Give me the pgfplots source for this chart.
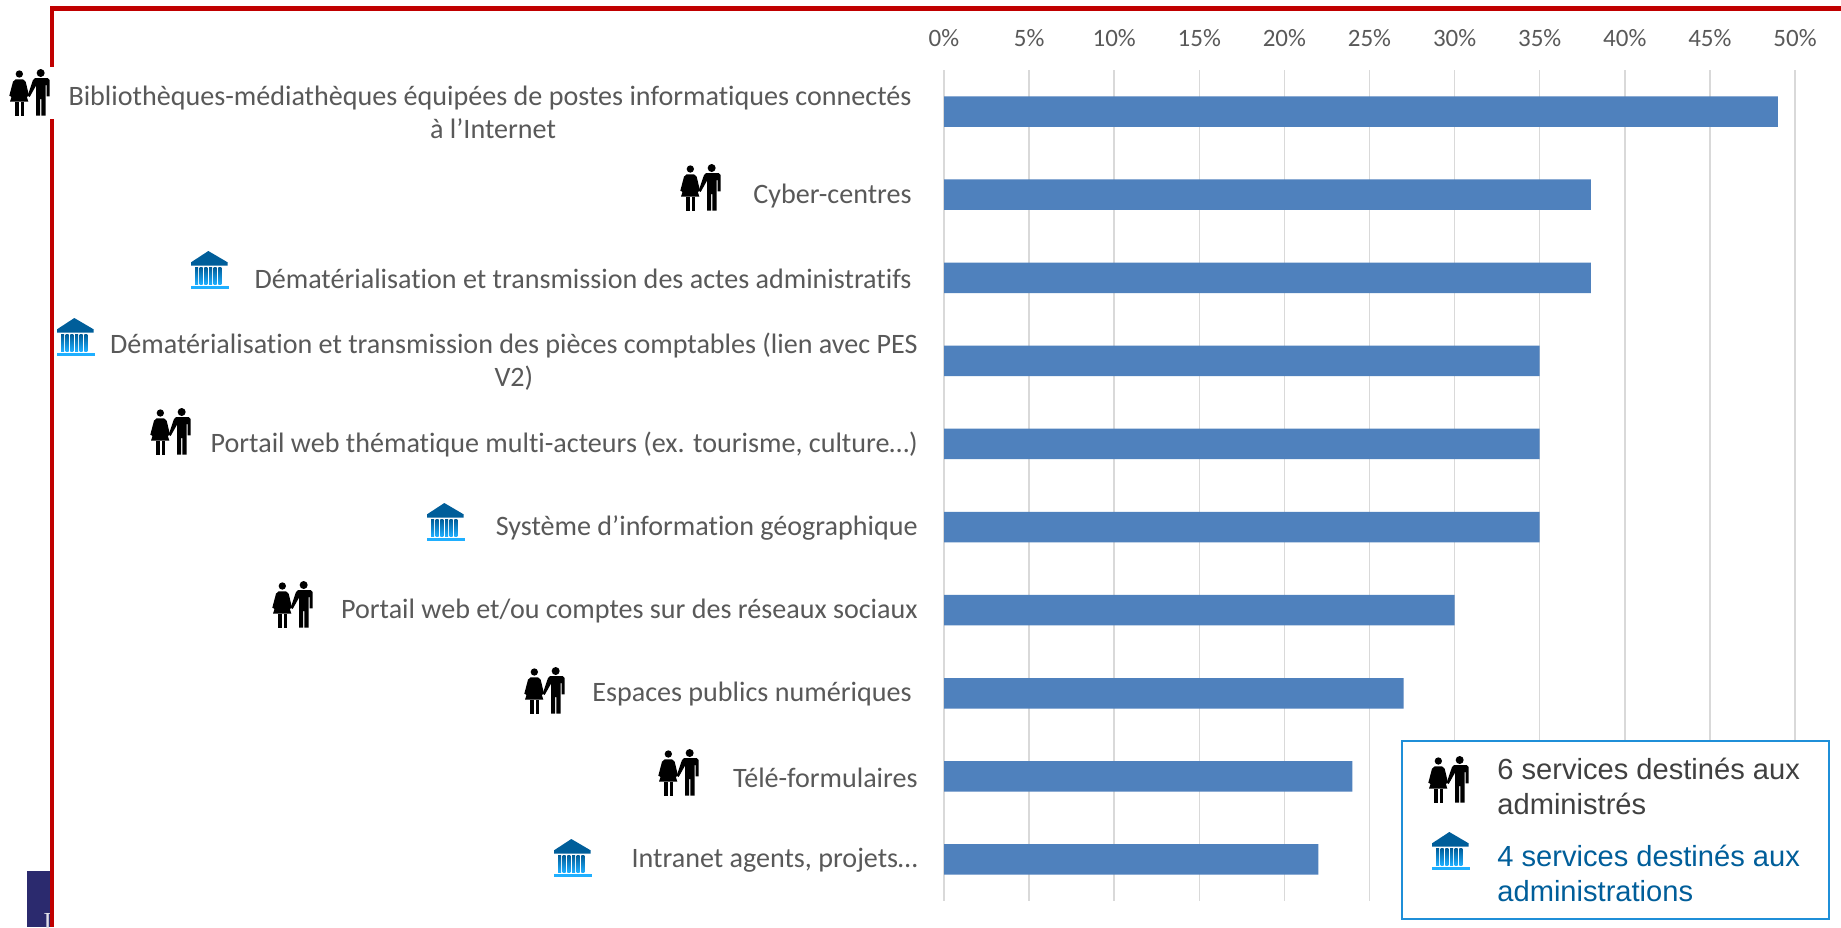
\documentclass[border=0pt]{standalone}
\usepackage{fontspec}
\setmainfont[Ligatures=NoCommon]{Carlito}
\newfontfamily\legfont{Liberation Sans}
\newfontfamily\seriffont{Liberation Serif}
\usepackage{pgfplots}
\pgfplotsset{compat=1.18}
\definecolor{barcol}{HTML}{4F81BD}
\definecolor{gridcol}{HTML}{D9D9D9}
\definecolor{labcol}{HTML}{595959}
\definecolor{framecol}{HTML}{C00000}
\definecolor{navy}{HTML}{2B2A6E}
\definecolor{bankcol}{HTML}{005E9A}
\definecolor{bankbright}{HTML}{1FAFFF}
\definecolor{legline}{HTML}{1F8FD8}
\definecolor{legtext}{HTML}{404040}

% icons, origin = top left corner of the icon, sizes in zoomed pixels (1/3 px)
\newcommand{\peopleicon}[2]{%
  \begin{scope}[shift={(#1,#2)},x=0.16667pt,y=-0.16667pt]
    \fill[black] (31,15) circle[radius=11];
    \fill[black] (20,31) -- (42,31) -- (50,38) -- (60,80) -- (53,84) -- (46,60) -- (58,98)
      -- (3,98) -- (15,60) -- (8,84) -- (1,80) -- (12,38) -- cycle;
    \fill[black] (19,98) rectangle (29,140);
    \fill[black] (35,98) rectangle (45,140);
    \fill[black] (95,12) circle[radius=12];
    \fill[black] (78,27) -- (116,27) -- (122,33) -- (122,82) -- (113,82) -- (113,48) -- (110,48)
      -- (110,140) -- (97,140) -- (97,90) -- (93,90) -- (93,140) -- (81,140) -- (81,50)
      -- (62,84) -- (56,80) -- (72,33) -- cycle;
  \end{scope}}
\newcommand{\bankicon}[2]{%
  \begin{scope}[shift={(#1,#2)},x=0.16667pt,y=-0.16667pt]
    \fill[bankcol] (52,0) -- (110,34) -- (110,44) -- (0,44) -- (0,34) -- cycle;
    \foreach \cx in {12,26,40,54,68,82}{
      \shade[top color=bankcol,bottom color=bankbright] (\cx,50) rectangle ++(9,50);
    }
    \fill[bankbright] (0,106) rectangle (113,113);
  \end{scope}}

\begin{document}
\begin{tikzpicture}[x=0.5pt,y=-0.5pt]
\path[use as bounding box,fill=white] (0,0) rectangle (1841,927);

% slide decoration behind the chart
\fill[navy] (27,871) rectangle (52,927);
\begin{scope}
  \clip (27,871) rectangle (50,927);
  \node[anchor=base west,inner sep=0pt,font=\seriffont\fontsize{13pt}{13pt}\selectfont,text=white!85!navy] at (43,930) {I};
\end{scope}
\fill[framecol] (50,6) rectangle (1841,10.5);
\fill[framecol] (50,6) rectangle (54,927);
\fill[white] (0,67) rectangle (55,119);

\begin{axis}[
  at={(472pt,-450.5pt)}, anchor=south west,
  scale only axis,
  width=425.5pt, height=415.5pt,
  xmin=0, xmax=50,
  ymin=-0.5, ymax=9.5,
  y dir=reverse,
  xbar,
  bar width=15.25pt,
  xtick={0,5,...,50},
  xticklabels={0\%,5\%,10\%,15\%,20\%,25\%,30\%,35\%,40\%,45\%,50\%},
  xticklabel pos=top,
  xticklabel style={font=\fontsize{12.5pt}{12.5pt}\selectfont,text=labcol,yshift=8pt},
  ytick={0,...,9},
  yticklabels={
    {Bibliothèques-médiathèques équipées de postes informatiques connectés\kern3pt\\à l’Internet},
    {Cyber-centres\hspace{3pt}},
    {Dématérialisation et transmission des actes administratifs\hspace{3pt}},
    {Dématérialisation et transmission des pièces comptables (lien avec PES\\V2)},
    {Portail web thématique multi-acteurs (ex. tourisme, culture…)},
    {Système d’information géographique},
    {Portail web et/ou comptes sur des réseaux sociaux},
    {Espaces publics numériques\hspace{3pt}},
    {Télé-formulaires},
    {Intranet agents, projets…}},
  yticklabel style={font=\fontsize{14.05pt}{16.4pt}\selectfont,text=labcol,align=center,inner sep=0pt,xshift=-13pt,yshift=-0.5pt},
  major tick length=0pt,
  axis line style={draw=none},
  xmajorgrids,
  ymajorgrids=false,
  grid style={gridcol,line width=0.75pt},
  clip=false,
]
  \addplot[fill=barcol,draw=none] coordinates {
    (49,0) (38,1) (38,2) (35,3) (35,4) (35,5) (30,6) (27,7) (24,8) (22,9)};
\end{axis}

% icons next to the labels
\peopleicon{9}{69}
\peopleicon{680}{164}
\bankicon{191}{251}
\bankicon{57}{318}
\peopleicon{150}{408}
\bankicon{427}{503}
\peopleicon{272}{581}
\peopleicon{524}{667}
\peopleicon{658}{749}
\bankicon{554}{839}

% key box
\draw[legline,fill=white,line width=1pt] (1402,741) rectangle (1829,919);
\peopleicon{1428}{756}
\bankicon{1432}{832}
\begin{scope}[every node/.style={anchor=base west,inner sep=0pt,font=\legfont\fontsize{14.55pt}{14.55pt}\selectfont}]
  \node[text=legtext] at (1497,779) {6 services destinés aux};
  \node[text=legtext] at (1497,814) {administrés};
  \node[text=bankcol] at (1497,866) {4 services destinés aux};
  \node[text=bankcol] at (1497,901) {administrations};
\end{scope}
\end{tikzpicture}
\end{document}
